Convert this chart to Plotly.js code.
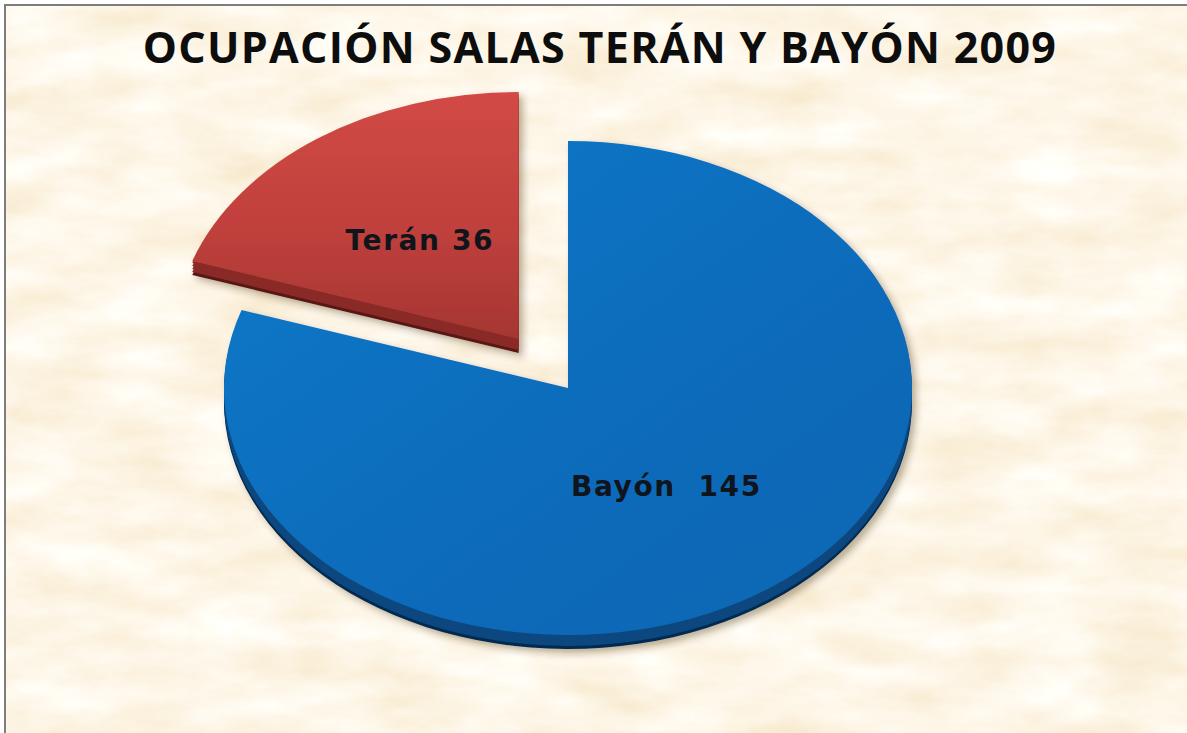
<!DOCTYPE html>
<html>
<head>
<meta charset="utf-8">
<script src="https://cdn.plot.ly/plotly-3.0.1.min.js"></script>
<style>
  html, body { margin: 0; padding: 0; background: #ffffff; width: 1187px; height: 733px; overflow: hidden; }
  #tex { position: absolute; left: 6px; top: 6px; width: 1181px; height: 727px; }
  #frame { position: absolute; left: 4px; top: 4px; width: 1183px; height: 729px; border-left: 2px solid #7d7d7d; border-top: 2px solid #7d7d7d; box-sizing: border-box; }
  #chart { position: absolute; left: 0; top: 0; width: 1187px; height: 733px; }
</style>
</head>
<body>
<svg id="tex" xmlns="http://www.w3.org/2000/svg" width="1181" height="727">
  <defs>
    <filter id="paper" x="0" y="0" width="100%" height="100%">
      <feTurbulence type="fractalNoise" baseFrequency="0.011 0.028" numOctaves="5" seed="11" result="n"/>
      <feColorMatrix in="n" type="matrix"
        values="0.12 0 0 0 0.925
                0.24 0 0 0 0.80
                0.44 0 0 0 0.58
                0 0 0 0 1"/>
    </filter>
  </defs>
  <rect width="1181" height="727" filter="url(#paper)"/>
</svg>
<div id="frame"></div>
<div id="chart"></div>
<script>
// ---- data ----
const labels = ['Bayón', 'Terán'];
const values = [145, 36];
const labelGaps = ['\u00a0 ', ' '];
const chartTitle = 'OCUPACIÓN SALAS TERÁN Y BAYÓN 2009';

// ---- styling / geometry (not data) ----
const topColors = ['#0a6dbd', '#c4403c'];
const sideColors = ['#08477f', '#8a2a27'];
const deepColors = ['#032a4f', '#5a1816'];
const pulls = [0, 0.245];
const CX = 568, CY = 388, RX = 344, RY = 247;
const depthOffsets = [14, 11, 8, 5, 2];

const W = 1187, H = 733;
const traces = [];
depthOffsets.forEach(function (d, i) {
  traces.push({
    type: 'pie', labels: labels, values: values, sort: false,
    direction: 'clockwise', rotation: 0, pull: pulls,
    textinfo: 'none', hoverinfo: 'none', showlegend: false,
    domain: {x: [0.2, 0.8], y: [0.1, 0.9]},
    marker: {colors: i === 0 ? deepColors : sideColors, line: {width: 0}}
  });
});
traces.push({
  type: 'pie', labels: labels, values: values, sort: false,
  direction: 'clockwise', rotation: 0, pull: pulls,
  textinfo: 'none', hoverinfo: 'none', showlegend: false,
  domain: {x: [0.2, 0.8], y: [0.1, 0.9]},
  marker: {colors: topColors, line: {width: 0}}
});

// label positions derived from the values (bisector of each slice)
const total = values.reduce(function (a, b) { return a + b; }, 0);
const annotations = [];
let cum = 0;
values.forEach(function (v, i) {
  const mid = (cum + v / 2) / total * 2 * Math.PI;
  cum += v;
  const sx = Math.sin(mid), sy = -Math.cos(mid);
  const ax = CX + pulls[i] * RX * sx;
  const ay = CY + pulls[i] * RY * sy;
  const px = ax + 0.49 * RX * sx;
  const py = ay + 0.49 * RY * sy;
  annotations.push({
    text: labels[i] + labelGaps[i] + values[i],
    xref: 'paper', yref: 'paper', x: px / W, y: 1 - py / H,
    xanchor: 'center', yanchor: 'middle', showarrow: false,
    font: {family: 'DejaVu Sans', size: 28, color: '#10151c', weight: 'bold'}
  });
});

const layout = {
  width: W, height: H,
  margin: {l: 0, r: 0, t: 0, b: 0},
  paper_bgcolor: 'rgba(0,0,0,0)', plot_bgcolor: 'rgba(0,0,0,0)',
  title: {
    text: chartTitle,
    font: {family: 'Open Sans', size: 43, color: '#0d0d0d', weight: 'bold'},
    x: 600 / W, xanchor: 'center', xref: 'paper',
    y: 1 - 48 / H, yanchor: 'middle', yref: 'container'
  },
  annotations: annotations,
  showlegend: false
};

const gd = document.getElementById('chart');
Plotly.newPlot(gd, traces, layout, {staticPlot: true, displayModeBar: false}).then(function () {
  const svg = gd.querySelector('.main-svg');
  const NS = 'http://www.w3.org/2000/svg';
  const defs = document.createElementNS(NS, 'defs');
  defs.innerHTML =
    '<linearGradient id="gB" x1="0" y1="0" x2="1" y2="1">' +
      '<stop offset="0" stop-color="#1479c9"/><stop offset="0.5" stop-color="#0a6dbd"/><stop offset="1" stop-color="#0865b2"/></linearGradient>' +
    '<linearGradient id="gT" x1="0" y1="0" x2="0" y2="1">' +
      '<stop offset="0" stop-color="#d24a46"/><stop offset="0.55" stop-color="#c0403c"/><stop offset="1" stop-color="#a53632"/></linearGradient>' +
    '<filter id="sh" x="-10%" y="-10%" width="130%" height="130%">' +
      '<feDropShadow dx="4" dy="4" stdDeviation="3.5" flood-color="#3a2a10" flood-opacity="0.35"/></filter>';
  svg.insertBefore(defs, svg.firstChild);

  const layer = gd.querySelector('.pielayer');
  const groups = layer.querySelectorAll('g.trace');
  const topGroup = groups[groups.length - 1];
  const topPaths = topGroup.querySelectorAll('g.slice path.surface');
  const bb = topPaths[0].getBBox();
  const cx = bb.x + bb.width / 2, cy = bb.y + bb.height / 2, r = bb.width / 2;
  const sx = RX / r, sy = RY / r;
  groups.forEach(function (g, i) {
    const dy = i < depthOffsets.length ? depthOffsets[i] : 0;
    g.setAttribute('transform', 'translate(' + (CX - cx * sx) + ',' + (CY - cy * sy + dy) + ') scale(' + sx + ',' + sy + ')');
  });
  topPaths[0].style.fill = 'url(#gB)';
  topPaths[1].style.fill = 'url(#gT)';
  layer.setAttribute('filter', 'url(#sh)');

  gd.querySelectorAll('.annotation-text').forEach(function (t) { t.style.letterSpacing = '1.6px'; });
  const tt = gd.querySelector('.gtitle');
  if (tt) tt.style.letterSpacing = '1.3px';
});
</script>
</body>
</html>
